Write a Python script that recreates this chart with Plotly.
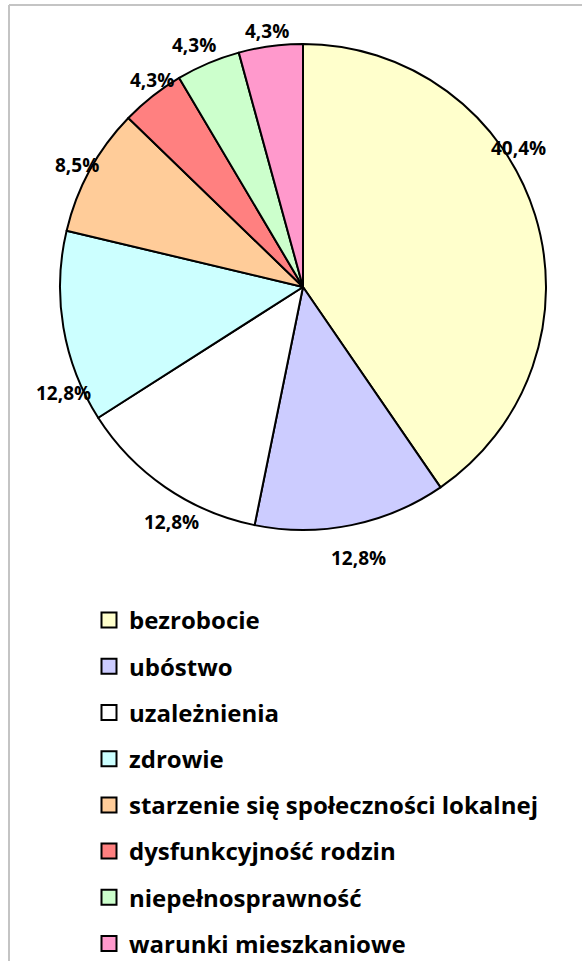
import math
import plotly.graph_objects as go

# ── Data ──────────────────────────────────────────────────────────────────────
categories = [
    "bezrobocie",
    "ubóstwo",
    "uzależnienia",
    "zdrowie",
    "starzenie się społeczności lokalnej",
    "dysfunkcyjność rodzin",
    "niepełnosprawność",
    "warunki mieszkaniowe",
]
counts = [19, 6, 6, 6, 4, 2, 2, 2]
colors = ["#FFFFCC", "#CCCCFF", "#FFFFFF", "#CCFFFF",
          "#FFCC99", "#FF8080", "#CCFFCC", "#FF99CC"]

FONT = "'Open Sans', 'Noto Sans', sans-serif"
W, H = 582, 961
PIE_X = [60 / W, 546 / W]
PIE_Y = [1 - 530 / H, 1 - 44 / H]

fig = go.Figure()

fig.add_trace(go.Pie(
    labels       = categories,
    values       = counts,
    sort         = False,
    direction    = "clockwise",
    rotation     = 0,
    marker       = dict(colors=colors, line=dict(color="#000000", width=2)),
    textinfo     = "none",
    showlegend   = False,
    domain       = dict(x=PIE_X, y=PIE_Y),
))

# ── Percent labels outside the slices (Excel-style, kept inside the frame) ───
total = sum(counts)
cx = (PIE_X[0] + PIE_X[1]) / 2 * W           # px from left
cy = (PIE_Y[0] + PIE_Y[1]) / 2 * H           # px from bottom
r = min((PIE_X[1] - PIE_X[0]) * W, (PIE_Y[1] - PIE_Y[0]) * H) / 2
cum = 0
for c in counts:
    txt = f"{100 * c / total:.1f}%".replace(".", ",")
    tw, th = 11 * len(txt), 22
    theta = math.radians(360 * (cum + c / 2) / total)
    cum += c
    while True:
        s, co = math.sin(theta), math.cos(theta)
        d = r + 17 + abs(s) * tw / 2 + abs(co) * th / 2
        x = cx + d * s
        if (abs(x - W / 2) + tw / 2 <= W / 2 - 6) or theta < 0.2:
            break
        # slide along the rim, away from the horizontal extreme
        theta -= math.radians(1) * (1 if s * co > 0 else -1)
    y = cy + d * co
    fig.add_annotation(x=x / W, y=y / H, xref="paper", yref="paper",
                       text=f"<b>{txt}</b>", showarrow=False,
                       font=dict(family=FONT, size=19, color="#000000"))

# legend entries (one per category, spaced via tracegroupgap)
for i, (name, col) in enumerate(zip(categories, colors)):
    fig.add_trace(go.Scatter(
        x=[None], y=[None], mode="markers", name=name,
        legendgroup=f"g{i}",
        marker=dict(symbol="square", size=15, color=col,
                    line=dict(color="#000000", width=2)),
    ))

# chart-area frame (left/top edges visible)
fig.add_shape(type="line", xref="paper", yref="paper",
              x0=9 / W, x1=9 / W, y0=0.0, y1=1 - 5 / H,
              line=dict(color="#C4C4C4", width=2))
fig.add_shape(type="line", xref="paper", yref="paper",
              x0=9 / W, x1=1.0, y0=1 - 5 / H, y1=1 - 5 / H,
              line=dict(color="#C4C4C4", width=2))

fig.update_layout(
    width=W, height=H,
    margin=dict(t=0, b=0, l=0, r=0, autoexpand=False),
    paper_bgcolor="#FFFFFF", plot_bgcolor="#FFFFFF",
    xaxis=dict(visible=False, range=[0, 1]),
    yaxis=dict(visible=False, range=[0, 1]),
    legend=dict(
        x=89 / W, y=1 - 598 / H, xanchor="left", yanchor="top",
        font=dict(family=FONT, size=24, color="#000000", weight="bold"),
        tracegroupgap=12, bgcolor="rgba(0,0,0,0)",
    ),
)

fig.write_html("out.html", config={"displayModeBar": False},
               post_script="document.body.style.margin='0';")
